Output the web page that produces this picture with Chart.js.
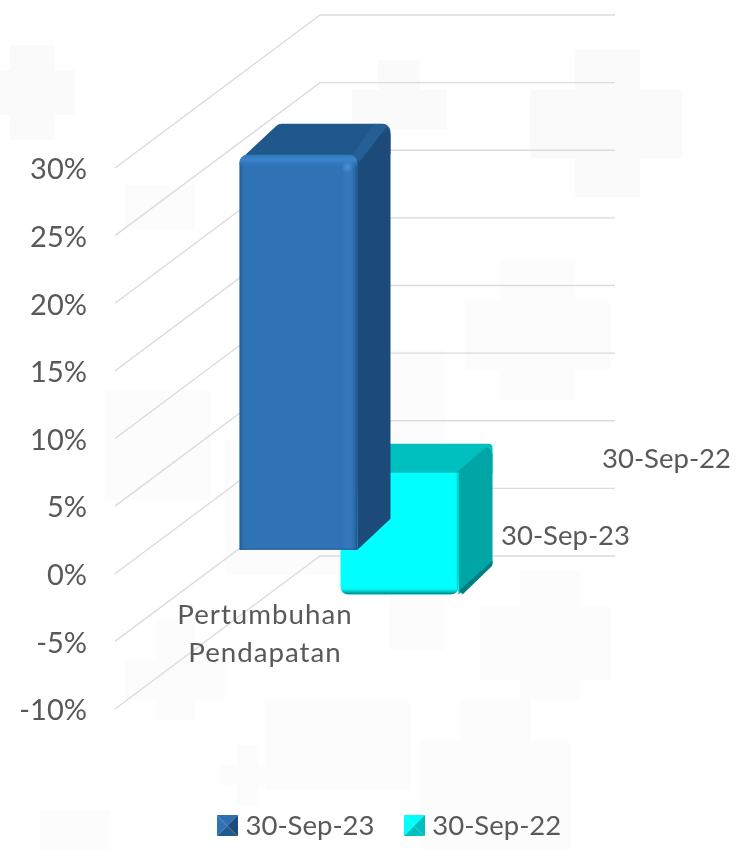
<!DOCTYPE html>
<html>
<head>
<meta charset="utf-8">
<style>html,body{margin:0;padding:0;background:#fff}#w{position:relative;width:743px;height:850px}</style>
<script src="https://cdn.jsdelivr.net/npm/chart.js@4"></script>
</head>
<body>
<div id="w"><canvas id="c" width="743" height="850"></canvas></div>
<script>
const categories = ['Pertumbuhan Pendapatan'];
const categoryLines = ['Pertumbuhan', 'Pendapatan'];
const seriesNames = ['30-Sep-23', '30-Sep-22'];
const values2023 = [29.2];
const values2022 = [-9];

const TEXT = '#595959', GRID = '#DCDCDC';
const WALL = {dx: 205, dy: -153, right: 615};
const ROWS = [
  {dx: 36, dy: -24, d: 33, e: -31, top: '#21588C', side: '#1C4B7A', front: '#2F73B6', kind: 'blue'},
  {dx: 137, dy: -101, d: 34, e: -29, top: '#00BFBF', side: '#00A5A5', front: '#00FFFF', kind: 'cyan'}
];
const WATERMARK_STRONG = [[0,70,75,45],[10,45,45,95],[575,50,65,147],[530,90,152,68],[378,60,42,70],[352,90,95,40]];
const WATERMARK_SOFT = [[465,300,145,70],[500,260,75,140],[390,350,55,300],[225,440,165,135],[480,607,130,73],[520,570,60,130],
 [420,740,150,110],[460,700,70,50],[40,810,70,40],[220,765,55,20],[237,745,20,60],[125,660,100,40],[155,620,40,100],
 [105,390,105,110],[265,700,145,90],[125,185,70,45]];

function marker(a, b, c, d) {
  const m = document.createElement('canvas'); m.width = 21; m.height = 21;
  const g = m.getContext('2d');
  [[a,0,0,21,0],[b,21,0,21,21],[c,21,21,0,21],[d,0,21,0,0]].forEach(t => {
    g.fillStyle = t[0]; g.beginPath(); g.moveTo(t[1],t[2]); g.lineTo(t[3],t[4]); g.lineTo(10.5,10.5); g.closePath(); g.fill();
  });
  return m;
}
const markers = [marker('#2F6FAE','#1C4B7A','#235A8E','#2F73B6'), marker('#00FFFF','#00BFBF','#00BFBF','#00FFFF')];

function poly(ctx, pts) {
  const n = pts.length;
  const s = [(pts[0][0]+pts[n-1][0])/2, (pts[0][1]+pts[n-1][1])/2];
  ctx.beginPath(); ctx.moveTo(s[0], s[1]);
  for (let i = 0; i < n; i++) {
    const p = pts[i], q = pts[(i+1)%n];
    ctx.arcTo(p[0], p[1], q[0], q[1], p[2] || 0);
  }
  ctx.closePath();
}
function strip(ctx, x0, y0, x1, y1, stops, rx, ry, rw, rh) {
  const g = ctx.createLinearGradient(x0, y0, x1, y1);
  stops.forEach(s => g.addColorStop(s[0], s[1]));
  ctx.fillStyle = g; ctx.fillRect(rx, ry, rw, rh);
}

const scene = {
  id: 'scene',
  beforeDraw(chart) {
    const ctx = chart.ctx;
    ctx.save();
    ctx.fillStyle = '#FCFCFC';
    WATERMARK_SOFT.forEach(r => ctx.fillRect(r[0], r[1], r[2], r[3]));
    ctx.fillStyle = '#FAFAFA';
    WATERMARK_STRONG.forEach(r => ctx.fillRect(r[0], r[1], r[2], r[3]));
    ctx.restore();
    const lg = chart.legend;
    lg.left = 41; lg.right = 743; lg.top = 777; lg.bottom = 850;
  },
  beforeDatasetsDraw(chart) {
    const ctx = chart.ctx, ys = chart.scales.y, left = chart.chartArea.left;
    ctx.save(); ctx.strokeStyle = GRID; ctx.lineWidth = 1.4;
    ys.ticks.forEach(t => {
      const y = ys.getPixelForValue(t.value);
      ctx.beginPath(); ctx.moveTo(left, y); ctx.lineTo(left + WALL.dx, y + WALL.dy); ctx.lineTo(WALL.right, y + WALL.dy); ctx.stroke();
    });
    ctx.restore();
  },
  beforeDatasetDraw(chart, args) {
    const ctx = chart.ctx, row = ROWS[args.index], el = args.meta.data[0];
    ctx.save();
    ctx.translate(row.dx, row.dy);
    const L = el.x - el.width/2, R = el.x + el.width/2, T = Math.min(el.y, el.base), B = Math.max(el.y, el.base);
    const d = row.d, e = row.e;
    const blue = row.kind === 'blue';
    ctx.fillStyle = row.top;
    poly(ctx, blue
      ? [[L,T+9,0],[L+6,T,6],[L+d+6,T+e,8],[R+d,T+e,8],[R+d,T+e+30,0],[R,T+8,0]]
      : [[L,T+1,0],[L+d,T+e,4],[R+d,T+e,4],[R+d,T+e+30,0],[R,T+8,0]]);
    ctx.fill();
    ctx.fillStyle = row.side;
    poly(ctx, [[R-3,T+1,0],[R+d-6,T+e+3,0],[R+d,T+e+8,6],[R+d,B+e,blue?0:6],[R,B,0]]);
    ctx.fill();
    if (blue) {
      ctx.fillStyle = '#265F96';
      poly(ctx, [[R-6,T+1,0],[R+d-16,T+e,0],[R+d-3,T+e+2,0],[R+2,T+7,0]]);
      ctx.fill();
    } else {
      ctx.fillStyle = '#007F7F';
      poly(ctx, [[R+d,B+e-5,0],[R+d,B+e,4],[R+4,B,0],[R+1,B-4,0]]);
      ctx.fill();
    }
  },
  afterDatasetDraw(chart, args) {
    const ctx = chart.ctx, row = ROWS[args.index], el = args.meta.data[0];
    const L = el.x - el.width/2, R = el.x + el.width/2, T = Math.min(el.y, el.base), B = Math.max(el.y, el.base), W = R - L;
    ctx.save();
    ctx.beginPath();
    ctx.roundRect(L, T, W, B - T, row.kind === 'blue' ? [8,8,0,0] : [0,0,8,8]);
    ctx.clip();
    if (row.kind === 'blue') {
      strip(ctx, L, 0, L + 6, 0, [[0,'#1F5A94'],[1,'rgba(47,115,182,0)']], L, T, 6, B - T);
      strip(ctx, R - 16, 0, R, 0, [[0,'rgba(58,128,196,0)'],[0.55,'#3478BC'],[0.8,'#2C6CAB'],[1,'#1E5289']], R - 16, T, 16, B - T);
      strip(ctx, 0, T, 0, T + 13, [[0,'#2F78BD'],[0.4,'#3A85CC'],[1,'rgba(47,115,182,0)']], L, T, W, 13);
      strip(ctx, 0, B - 2, 0, B, [[0,'rgba(30,82,137,0)'],[1,'#1E5289']], L, B - 2, W, 2);
      const g = ctx.createRadialGradient(R - 10, T + 12, 0, R - 10, T + 12, 6);
      g.addColorStop(0, '#4A93D6'); g.addColorStop(1, 'rgba(74,147,214,0)');
      ctx.fillStyle = g; ctx.fillRect(R - 16, T + 6, 12, 12);
    } else {
      strip(ctx, R - 4, 0, R, 0, [[0,'rgba(0,255,255,0)'],[1,'#00C4C4']], R - 4, T, 4, B - T);
      strip(ctx, 0, B - 7, 0, B, [[0,'rgba(0,255,255,0)'],[0.5,'#00CFCF'],[1,'#007F7F']], L, B - 7, W, 7);
    }
    ctx.restore();
    ctx.restore();
  },
  afterDatasetsDraw(chart) {
    const ctx = chart.ctx;
    ctx.save();
    ctx.fillStyle = TEXT; ctx.textAlign = 'center'; ctx.textBaseline = 'middle';
    ctx.font = '27.7px Lato';
    ctx.letterSpacing = '1px';
    ctx.fillText(categoryLines[0], 265, 615);
    ctx.fillText(categoryLines[1], 265, 653);
    ctx.letterSpacing = '0px';
    ctx.font = '27.5px "Liberation Sans Narrow", Lato';
    ctx.textAlign = 'left';
    ctx.fillText(seriesNames[0], 501, 536);
    ctx.fillText(seriesNames[1], 602, 459);
    ctx.restore();
  }
};

new Chart(document.getElementById('c'), {
  type: 'bar',
  data: {
    labels: categories,
    datasets: [
      {label: seriesNames[0], data: values2023, backgroundColor: ROWS[0].front, borderWidth: 0, borderRadius: 8, barPercentage: 0.4, categoryPercentage: 1, clip: false},
      {label: seriesNames[1], data: values2022, backgroundColor: ROWS[1].front, borderWidth: 0, borderRadius: 8, barPercentage: 0.4, categoryPercentage: 1, clip: false}
    ]
  },
  plugins: [scene],
  options: {
    responsive: false,
    animation: false,
    layout: {padding: {top: 168, right: 333, bottom: 68.5, left: 0}},
    scales: {
      x: {display: false, stacked: true},
      y: {
        min: -10, max: 30,
        afterFit(s) { s.width = 115; },
        grid: {display: false},
        border: {display: false},
        ticks: {stepSize: 5, padding: 20, labelOffset: 2, color: TEXT, font: {family: 'Lato', size: 29}, callback: v => v + '%'}
      }
    },
    plugins: {
      tooltip: {enabled: false},
      legend: {
        position: 'bottom',
        labels: {
          padding: 35, color: TEXT, usePointStyle: true, pointStyleWidth: 9,
          font: {family: '"Liberation Sans Narrow", Lato', size: 27.5},
          generateLabels: ch => ch.data.datasets.map((ds, i) => ({text: ds.label, fontColor: TEXT, pointStyle: markers[i], datasetIndex: i, lineWidth: 0, strokeStyle: 'transparent', fillStyle: ROWS[i].front}))
        }
      }
    }
  }
});
</script>
</body>
</html>
